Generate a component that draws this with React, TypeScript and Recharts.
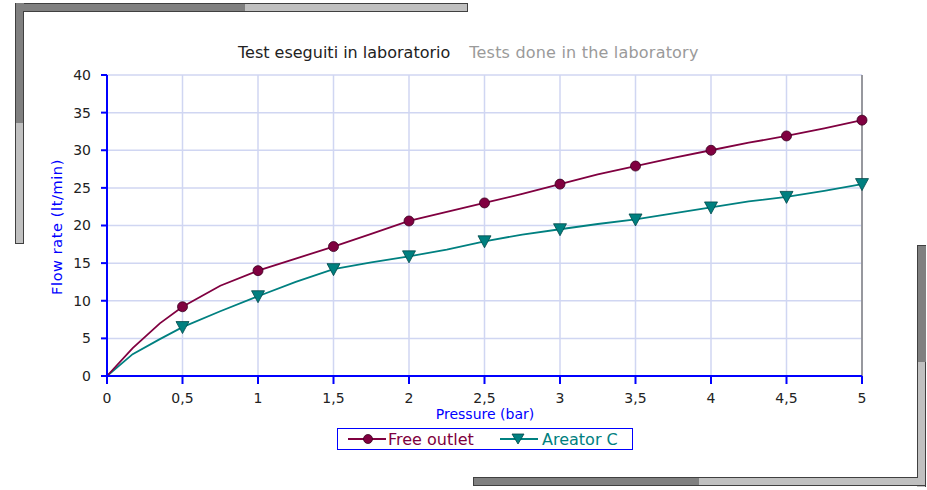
import React from "react";
import {
  LineChart,
  Line,
  XAxis,
  YAxis,
  CartesianGrid,
  ReferenceLine,
  Legend,
} from "recharts";

const pressure = [0, 0.17, 0.35, 0.5, 0.75, 1, 1.25, 1.5, 1.75, 2, 2.25, 2.5, 2.75, 3, 3.25, 3.5, 3.75, 4, 4.25, 4.5, 4.75, 5];
const freeOutlet = [0, 3.7, 7.0, 9.2, 12.0, 14.0, 15.6, 17.2, 18.9, 20.6, 21.8, 23.0, 24.2, 25.5, 26.8, 27.9, 29.0, 30.0, 31.0, 31.9, 32.9, 34.0];
const areatorC = [0, 2.9, 4.9, 6.5, 8.6, 10.6, 12.5, 14.2, 15.1, 15.9, 16.8, 17.9, 18.8, 19.5, 20.2, 20.8, 21.6, 22.4, 23.2, 23.8, 24.6, 25.5];
const xTicks = [0, 0.5, 1, 1.5, 2, 2.5, 3, 3.5, 4, 4.5, 5];
const yTicks = [0, 5, 10, 15, 20, 25, 30, 35, 40];
const seriesNames = ["Free outlet", "Areator C"];
const titleIt = "Test eseguiti in laboratorio";
const titleEn = "Tests done in the laboratory";
const xLabel = "Pressure (bar)";
const yLabel = "Flow rate (lt/min)";

const data = pressure.map((p, i) => ({ p, free: freeOutlet[i], aer: areatorC[i] }));

const FONT = "'DejaVu Sans', sans-serif";
const MAROON = "#800040";
const TEAL = "#008080";
const BLUE = "#0000ff";

const isMarker = (p: number) => p > 0 && Math.abs(p * 2 - Math.round(p * 2)) < 1e-6;

const CircleDot = (props: any) => {
  const { cx, cy, payload, index } = props;
  if (!isMarker(payload.p)) return <g key={`c${index}`} />;
  return <circle key={`c${index}`} cx={cx} cy={cy} r={5} fill={MAROON} stroke="#3a0020" strokeWidth={0.8} />;
};

const TriDot = (props: any) => {
  const { cx, cy, payload, index } = props;
  if (!isMarker(payload.p)) return <g key={`t${index}`} />;
  const s = 6.5;
  return (
    <path
      key={`t${index}`}
      d={`M${cx - s},${cy - s + 1} L${cx + s},${cy - s + 1} L${cx},${cy + s} Z`}
      fill={TEAL}
      stroke="#004848"
      strokeWidth={0.8}
    />
  );
};

const LegendContent = () => (
  <div
    style={{
      position: "absolute",
      left: 337,
      top: 428,
      width: 296,
      height: 22,
      border: `1px solid ${BLUE}`,
      boxSizing: "border-box",
      background: "#fff",
      display: "flex",
      alignItems: "center",
      fontFamily: FONT,
      fontSize: 16,
      whiteSpace: "nowrap",
    }}
  >
    <svg width={38} height={20} style={{ marginLeft: 10, flex: "none" }}>
      <line x1={0} y1={10} x2={38} y2={10} stroke={MAROON} strokeWidth={1.8} />
      <circle cx={20} cy={10} r={4.5} fill={MAROON} stroke="#3a0020" strokeWidth={0.8} />
    </svg>
    <span style={{ color: MAROON, marginLeft: 2, width: 88, flex: "none" }}>{seriesNames[0]}</span>
    <svg width={38} height={20} style={{ marginLeft: 24, flex: "none" }}>
      <line x1={0} y1={10} x2={38} y2={10} stroke={TEAL} strokeWidth={1.8} />
      <path d="M12,5 L24,5 L18,15 Z" fill={TEAL} stroke="#004848" strokeWidth={0.8} />
    </svg>
    <span style={{ color: TEAL, marginLeft: 4 }}>{seriesNames[1]}</span>
  </div>
);

const bar = (style: React.CSSProperties) => (
  <div style={{ position: "absolute", boxSizing: "border-box", ...style }} />
);

export default function App() {
  return (
    <div style={{ position: "absolute", left: 0, top: 0, width: 927, height: 490, background: "#fff", overflow: "hidden" }}>
      {/* decorative frame top-left */}
      {bar({ left: 15, top: 3, width: 231, height: 9, background: "#808080", borderTop: "1px solid #404040", borderLeft: "1px solid #404040" })}
      {bar({ left: 245, top: 3, width: 223, height: 9, background: "#c0c0c0", borderTop: "1px solid #404040", borderRight: "1px solid #404040" })}
      {bar({ left: 15, top: 3, width: 9, height: 121, background: "#808080", borderLeft: "1px solid #404040" })}
      {bar({ left: 15, top: 123, width: 9, height: 121, background: "#c0c0c0", borderLeft: "1px solid #404040", borderBottom: "1px solid #404040", borderRight: "1px solid #404040" })}
      {bar({ left: 23, top: 11, width: 445, height: 1, background: "#404040" })}
      {bar({ left: 23, top: 11, width: 1, height: 233, background: "#404040" })}
      {/* decorative frame bottom-right */}
      {bar({ left: 917, top: 245, width: 9, height: 118, background: "#808080", borderTop: "1px solid #404040", borderLeft: "1px solid #404040" })}
      {bar({ left: 917, top: 362, width: 9, height: 125, background: "#c0c0c0", borderRight: "1px solid #404040" })}
      {bar({ left: 473, top: 477, width: 227, height: 9, background: "#808080", borderTop: "1px solid #404040", borderLeft: "1px solid #404040", borderBottom: "1px solid #404040" })}
      {bar({ left: 699, top: 477, width: 227, height: 9, background: "#c0c0c0", borderBottom: "1px solid #404040", borderRight: "1px solid #404040" })}
      {bar({ left: 699, top: 477, width: 219, height: 1, background: "#404040" })}
      {bar({ left: 917, top: 245, width: 1, height: 233, background: "#404040" })}

      {/* title */}
      <div
        style={{
          position: "absolute",
          left: 238,
          top: 43,
          fontFamily: FONT,
          fontSize: 16,
          whiteSpace: "nowrap",
          lineHeight: "20px",
        }}
      >
        <span style={{ color: "#222" }}>{titleIt}</span>
        <span style={{ color: "#9a9a9a", marginLeft: 19, letterSpacing: 0.2 }}>{titleEn}</span>
      </div>

      {/* axis titles */}
      <div
        style={{
          position: "absolute",
          left: 385,
          width: 200,
          textAlign: "center",
          top: 405,
          fontFamily: FONT,
          fontSize: 14,
          color: BLUE,
          lineHeight: "18px",
        }}
      >
        {xLabel}
      </div>
      <div
        style={{
          position: "absolute",
          left: 57 - 100,
          top: 227 - 9,
          width: 200,
          textAlign: "center",
          fontFamily: FONT,
          fontSize: 14.5,
          letterSpacing: 0.6,
          color: BLUE,
          lineHeight: "18px",
          transform: "rotate(-90deg)",
        }}
      >
        {yLabel}
      </div>

      <div style={{ position: "absolute", left: 0, top: 0 }}>
        <LineChart
          width={927}
          height={490}
          data={data}
          margin={{ top: 75, right: 65, bottom: 84, left: 57 }}
          style={{ fontFamily: FONT }}
        >
          <CartesianGrid stroke="#d0d6f2" strokeWidth={1.5} verticalValues={xTicks} horizontalValues={yTicks} />
          <XAxis
            dataKey="p"
            type="number"
            domain={[0, 5]}
            ticks={xTicks}
            interval={0}
            height={30}
            stroke={BLUE}
            strokeWidth={2}
            tickSize={8}
            tickMargin={9}
            tick={{ fill: "#222", fontSize: 14 }}
            tickFormatter={(v: number) => String(v).replace(".", ",")}
            tickLine={{ stroke: BLUE, strokeWidth: 2 }}
          />
          <YAxis
            type="number"
            domain={[0, 40]}
            ticks={yTicks}
            interval={0}
            width={50}
            stroke={BLUE}
            strokeWidth={2}
            tickSize={6}
            tickMargin={10}
            tick={{ fill: "#222", fontSize: 14 }}
            tickLine={{ stroke: BLUE, strokeWidth: 2 }}
          />
          <ReferenceLine x={5} stroke="#808080" strokeWidth={1.5} />
          <Line
            type="linear"
            dataKey="aer"
            name={seriesNames[1]}
            stroke={TEAL}
            strokeWidth={1.8}
            dot={TriDot}
            activeDot={false}
            isAnimationActive={false}
          />
          <Line
            type="linear"
            dataKey="free"
            name={seriesNames[0]}
            stroke={MAROON}
            strokeWidth={1.8}
            dot={CircleDot}
            activeDot={false}
            isAnimationActive={false}
          />
          <Legend content={LegendContent} wrapperStyle={{ position: "absolute", left: 0, top: 0, width: 0, height: 0 }} />
        </LineChart>
      </div>
    </div>
  );
}
